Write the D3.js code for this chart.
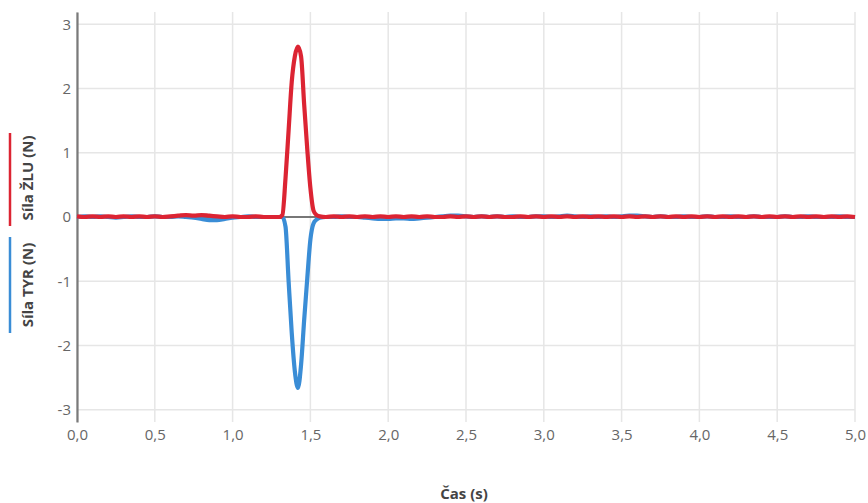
<!DOCTYPE html>
<html><head><meta charset="utf-8">
<script src="https://cdn.jsdelivr.net/npm/d3@7"></script>
<style>body{margin:0;background:#fff}svg{display:block}</style>
</head><body><svg id="c" width="868" height="503"></svg>
<script>
const times = [
 0.00,0.05,0.10,0.15,0.20,0.25,0.30,0.35,0.40,0.45,0.50,0.55,0.60,0.65,0.70,0.75,0.80,0.85,0.90,0.95,1.00,1.05,1.10,1.15,1.20,1.25,1.30,
 1.32,1.34,1.36,1.38,1.40,1.42,1.44,1.46,1.48,1.50,1.52,1.54,1.56,
 1.60,1.65,1.70,1.75,1.80,1.85,1.90,1.95,2.00,2.05,2.10,2.15,2.20,2.25,2.30,2.35,2.40,2.45,2.50,2.55,2.60,2.65,2.70,2.75,2.80,2.85,2.90,2.95,
 3.00,3.05,3.10,3.15,3.20,3.25,3.30,3.35,3.40,3.45,3.50,3.55,3.60,3.65,3.70,3.75,3.80,3.85,3.90,3.95,
 4.00,4.05,4.10,4.15,4.20,4.25,4.30,4.35,4.40,4.45,4.50,4.55,4.60,4.65,4.70,4.75,4.80,4.85,4.90,4.95,5.00];
const redValues = [
 0.01,0.00,0.01,0.00,0.01,0.00,0.01,0.00,0.01,0.00,0.01,0.00,0.01,0.02,0.03,0.02,0.03,0.02,0.01,0.00,0.01,0.00,0.00,0.01,0.00,0.00,0.00,
 0.03,0.60,1.35,2.10,2.50,2.65,2.50,1.75,1.05,0.45,0.10,0.03,0.01,
 0.00,0.01,0.00,0.01,0.00,0.01,0.00,0.01,0.00,0.01,0.00,0.01,0.00,0.01,0.00,0.00,0.01,0.00,0.01,0.00,0.01,0.00,0.01,0.00,0.00,0.01,0.00,0.01,
 0.00,0.01,0.00,0.01,0.00,0.01,0.00,0.01,0.00,0.01,0.00,0.01,0.00,0.01,0.00,0.01,0.00,0.01,0.00,0.01,
 0.00,0.01,0.00,0.01,0.00,0.01,0.00,0.01,0.00,0.01,0.00,0.01,0.00,0.01,0.00,0.01,0.00,0.01,0.00,0.01,0.00];
const blueValues = [
 0.00,0.01,0.00,0.01,0.00,-0.01,0.00,0.01,0.00,0.00,0.01,0.00,0.00,0.01,0.00,-0.01,-0.03,-0.05,-0.05,-0.03,-0.01,0.00,0.01,0.00,0.00,0.00,0.00,
 0.00,-0.15,-1.00,-1.80,-2.40,-2.66,-2.30,-1.60,-0.95,-0.35,-0.10,-0.04,-0.01,
 0.00,0.00,0.01,0.00,0.00,-0.01,-0.02,-0.03,-0.03,-0.02,-0.02,-0.03,-0.02,-0.01,0.00,0.01,0.02,0.02,0.01,0.00,0.01,0.00,0.01,0.00,0.01,0.00,0.00,0.01,
 0.01,0.00,0.01,0.02,0.01,0.00,0.01,0.00,0.01,0.00,0.01,0.02,0.02,0.01,0.00,0.01,0.00,0.00,0.01,0.00,
 0.00,0.01,0.00,0.00,0.01,0.00,0.00,0.01,0.00,0.00,0.00,0.01,0.00,0.00,0.01,0.00,0.00,0.00,0.01,0.00,0.00];
const xTicks = [0,0.5,1,1.5,2,2.5,3,3.5,4,4.5,5];
const yTicks = [-3,-2,-1,0,1,2,3];
const xTitle = "Čas (s)";
const redTitle = "Síla ŽLU (N)";
const blueTitle = "Síla TYR (N)";
const redColor = "#dc2433", blueColor = "#3a8dd6";

const svg = d3.select("#c");
const L = 77, R = 855, T = 12, B = 422;
const x = d3.scaleLinear().domain([0,5]).range([L,R]);
const y = d3.scaleLinear().domain([-3.19,3.19]).range([B,T]);
const font = "'Open Sans', 'Noto Sans', sans-serif";

// grid
svg.append("g").selectAll("line").data(xTicks).join("line")
  .attr("x1",d=>x(d)).attr("x2",d=>x(d)).attr("y1",T).attr("y2",B)
  .attr("stroke","#e6e6e6").attr("stroke-width",1.5);
svg.append("g").selectAll("line").data(yTicks).join("line")
  .attr("x1",L).attr("x2",R).attr("y1",d=>y(d)).attr("y2",d=>y(d))
  .attr("stroke","#e6e6e6").attr("stroke-width",1.5);

// x axis labels
const xa = svg.append("g").attr("transform",`translate(0,${B})`)
  .call(d3.axisBottom(x).tickValues(xTicks).tickSize(0).tickPadding(7)
    .tickFormat(d=>d3.format(".1f")(d).replace(".",",")));
xa.select(".domain").remove();
xa.selectAll("text").attr("font-family",font).attr("font-size",15).attr("fill","#666");

// y axis
const ya = svg.append("g").attr("transform",`translate(${L},0)`)
  .call(d3.axisLeft(y).tickValues(yTicks).tickSize(0).tickPadding(6).tickFormat(d=>String(d)));
ya.select(".domain").attr("stroke","#7a7a7a").attr("stroke-width",2.2);
ya.selectAll("text").attr("font-family",font).attr("font-size",15).attr("fill","#666");

// zero line
svg.append("line").attr("x1",L).attr("x2",R).attr("y1",y(0)).attr("y2",y(0))
  .attr("stroke","#777").attr("stroke-width",1.8);

const line = d3.line().x((d,i)=>x(times[i])).y(d=>y(d)).curve(d3.curveMonotoneX);
svg.append("path").datum(blueValues).attr("d",line).attr("fill","none")
  .attr("stroke",blueColor).attr("stroke-width",4.2).attr("stroke-linejoin","round");
svg.append("path").datum(redValues).attr("d",line).attr("fill","none")
  .attr("stroke",redColor).attr("stroke-width",4.2).attr("stroke-linejoin","round");

// titles
svg.append("text").attr("x",464).attr("y",499).attr("text-anchor","middle")
  .attr("font-family",font).attr("font-size",15).attr("font-weight","bold").attr("fill","#444").text(xTitle);
svg.append("text").attr("transform","translate(33,178) rotate(-90)").attr("text-anchor","middle")
  .attr("font-family",font).attr("font-size",15).attr("font-weight","bold").attr("fill","#444").text(redTitle);
svg.append("text").attr("transform","translate(33,285) rotate(-90)").attr("text-anchor","middle")
  .attr("font-family",font).attr("font-size",15).attr("font-weight","bold").attr("fill","#444").text(blueTitle);
svg.append("line").attr("x1",10).attr("x2",10).attr("y1",133).attr("y2",226).attr("stroke",redColor).attr("stroke-width",2.5);
svg.append("line").attr("x1",10).attr("x2",10).attr("y1",237).attr("y2",333).attr("stroke",blueColor).attr("stroke-width",2.5);
</script></body></html>
